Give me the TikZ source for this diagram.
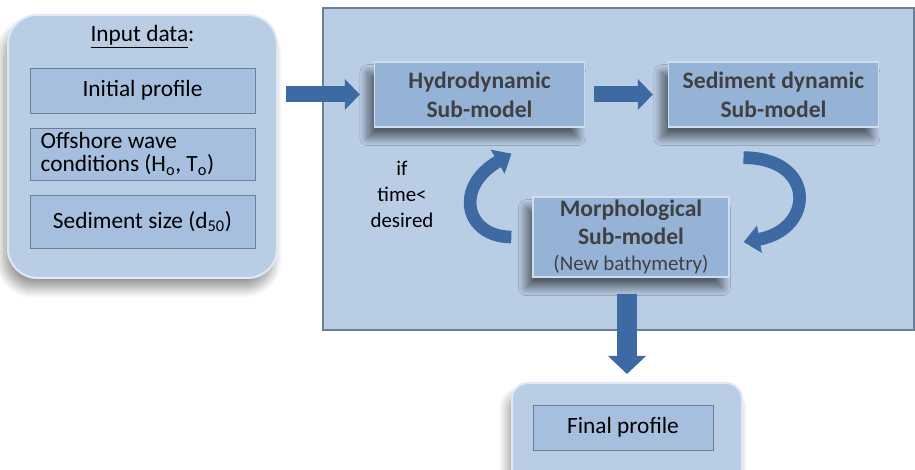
\documentclass[tikz,border=0pt]{standalone}
\usepackage{fontspec}
\setmainfont{Carlito}
\usetikzlibrary{positioning, arrows.meta, shadows.blur, calc}

\definecolor{panelblue}{HTML}{B9CDE5}
\definecolor{itemblue}{HTML}{A7BFDE}
\definecolor{modelblue}{HTML}{95B3D7}
\definecolor{arrowblue}{HTML}{3D6AA2}
\definecolor{edgegray}{HTML}{6C7F99}
\definecolor{textgray}{HTML}{404040}

\tikzset{
  panel/.style={draw=white!55!panelblue, line width=1.5pt, fill=panelblue, rounded corners=22pt,
    blur shadow={shadow xshift=-3pt, shadow yshift=-8pt, shadow blur radius=7pt, shadow blur steps=12, shadow opacity=40}},
  item/.style={draw=edgegray, fill=itemblue, minimum width=168.75pt, align=center},
  model/.style={draw=white!55!modelblue, line width=1pt, fill=modelblue, text=textgray, align=center,
    font=\bfseries\fontsize{17.7}{21.5}\selectfont, inner sep=0pt,
    blur shadow={shadow xshift=-5pt, shadow yshift=-8pt, shadow blur radius=6pt, shadow blur steps=12, shadow opacity=55}},
  flow/.style={draw=arrowblue, line width=12pt, -{Triangle[width=22.5pt,length=11.25pt]}},
  turnarrow/.style={draw=arrowblue, line width=9.5pt, -{Triangle[width=20pt,length=12pt]}}
}

\begin{document}
\begin{tikzpicture}[x=0.75pt,y=0.75pt,font=\fontsize{17.5}{21}\selectfont]
    \useasboundingbox (0,0) rectangle (915,-470);
    \clip (0,0) rectangle (915,-470);

    % model frame
    \node[draw=edgegray, line width=1pt, fill=panelblue, minimum width=443.25pt, minimum height=241.5pt] (main) at (618.5,-169) {};

    % input data
    \node[panel, minimum width=201.75pt, minimum height=197.25pt] (input) at (142.5,-146.5) {};
    \node (inlabel) at (142.5,-37) {\underline{Input data}:};
    \node[item, minimum height=33.75pt] (initial) at (142.5,-90.5) {Initial profile};
    \node[item, minimum height=39pt, on grid, below=47.6pt of initial, text width=152.75pt, inner xsep=8pt, align=flush left,
      font=\fontsize{17.5}{17.5}\selectfont] (wave) {Offshore wave\\conditions (H\textsubscript{o}, T\textsubscript{o})};
    \node[item, minimum height=39.75pt, on grid, below=50.6pt of wave] (sedsize) {Sediment size (d\textsubscript{50})};

    % sub-models
    \node[model, minimum width=157.5pt, minimum height=48.75pt] (hydro) at (479.5,-94.5) {Hydrodynamic\\Sub-model};
    \node[model, minimum width=157.5pt, minimum height=48.75pt, on grid, right=220.5pt of hydro] (sedim) {Sediment dynamic\\Sub-model};
    \node[model, minimum width=147pt, minimum height=60pt] (morph) at (631,-237)
      {Morphological\\Sub-model\\[-2pt]{\mdseries\fontsize{15.7}{18}\selectfont (New bathymetry)}};
    \node[align=center, font=\fontsize{15.7}{19.5}\selectfont] (cond) at (402,-194) {if\\time<\\desired};

    % output
    \node[panel, rounded corners=12pt, minimum width=172.5pt, minimum height=76.5pt] (final) at (627,-434) {};
    \node[item, minimum width=135pt, minimum height=33.75pt] (finalp) at (623,-427.5) {Final profile};

    % arrows
    \draw[flow, shorten <=6pt, shorten >=10.5pt] (input.east |- hydro.west) -- (hydro.west);
    \draw[flow, shorten <=6.75pt, shorten >=11.25pt] (hydro.east) -- (sedim.west);
    \draw[turnarrow] ($(sedim.south)+(-30,-30)$) to[out=0, in=10, looseness=2.2] ($(morph.east)+(14,-5)$);
    \draw[turnarrow, shorten <=15.75pt] (morph.west) to[out=180, in=210, looseness=2] ($(hydro.south)+(32,-26)$);
    \draw[flow, line width=15pt, -{Triangle[width=27.75pt,length=13.5pt]}, shorten <=12pt, shorten >=6pt]
      (final.north |- morph.south) -- (final.north);
\end{tikzpicture}
\end{document}
